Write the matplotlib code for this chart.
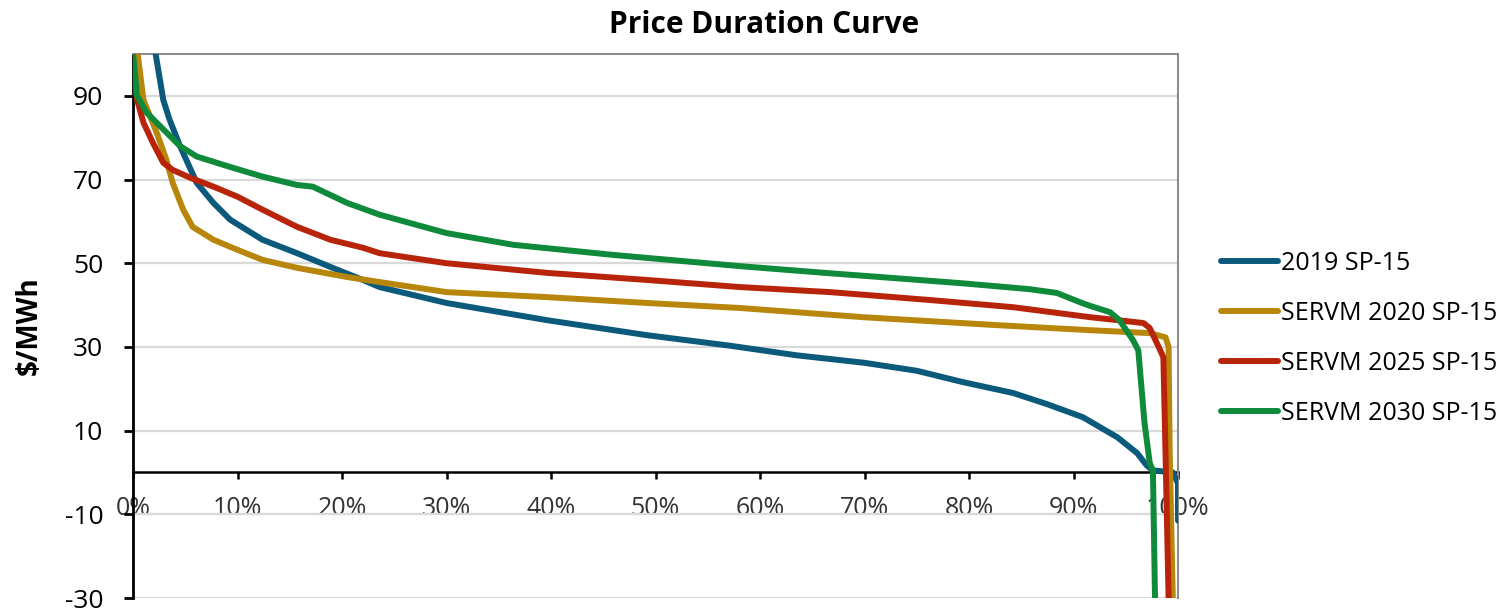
import matplotlib
matplotlib.use('Agg')
import matplotlib.pyplot as plt

plt.rcParams['font.family'] = ['Open Sans', 'DejaVu Sans']
plt.rcParams['axes.unicode_minus'] = False

# duration (% of hours) and price ($/MWh) for each curve
x_2019 = [1.6, 2.1, 2.9, 3.5, 4.5, 6.1, 7.7, 9.3, 12.4, 15.7, 18.9, 22.0, 23.6, 30.0, 39.6, 49.2,
          57.1, 63.5, 70.0, 75.0, 79.4, 84.2, 87.5, 90.9, 94.2, 96.1, 97.0, 97.6, 99.5, 100.0, 100.0]
y_2019 = [110, 101, 89, 84.3, 78, 69.2, 64.4, 60.4, 55.6, 52.4, 49.1, 46, 44.3, 40.5, 36.4, 32.8,
          30.3, 28.0, 26.2, 24.3, 21.6, 19.0, 16.3, 13.2, 8.4, 4.6, 1.7, 0.5, 0, -2.6, -11.5]

x_2020 = [0.0, 0.4, 1.0, 2.3, 3.2, 3.8, 4.8, 5.7, 7.7, 10.0, 12.4, 15.7, 20.5, 23.6, 30.0, 39.6,
          49.2, 58.1, 69.9, 82.7, 91.6, 97.3, 98.8, 99.1, 99.2, 99.5]
y_2020 = [108, 101, 89, 81, 74.7, 69.2, 62.8, 58.7, 55.6, 53.2, 50.8, 48.9, 46.7, 45.5, 43.1, 41.9,
          40.5, 39.3, 37.1, 35.2, 34.0, 33.3, 32.3, 30, 5.3, -30]

x_2025 = [0.0, 0.4, 1.0, 1.9, 2.9, 3.8, 5.5, 7.7, 10.0, 12.4, 15.7, 18.9, 22.0, 23.6, 30.0, 39.6,
          49.2, 58.1, 66.7, 76.3, 84.2, 91.6, 94.2, 96.7, 97.3, 98.3, 98.6, 98.8, 99.1]
y_2025 = [95, 89, 83.6, 78.8, 74, 72.3, 70.4, 68.3, 65.9, 62.8, 58.7, 55.6, 53.7, 52.4, 50.0, 47.7,
          46.0, 44.3, 43.1, 41.2, 39.5, 37.1, 36.4, 35.7, 34.5, 29.2, 27.5, 5.3, -30]

x_2030 = [0.0, 0.4, 1.3, 2.9, 4.5, 6.1, 9.3, 12.4, 15.7, 17.2, 20.5, 23.6, 30.0, 36.4, 45.9, 58.1,
          66.7, 73.1, 79.4, 85.8, 88.4, 90.6, 91.6, 93.5, 94.4, 95.7, 96.2, 96.8, 97.3, 97.6, 97.8]
y_2030 = [100, 90, 86, 82, 78, 75.5, 73, 70.7, 68.7, 68.3, 64.4, 61.6, 57.2, 54.4, 52, 49.3,
          47.6, 46.4, 45.2, 43.8, 42.9, 40.7, 39.8, 38.3, 36.4, 31.6, 29.2, 11.7, 2.2, 0.5, -30]

labels = ['2019 SP-15', 'SERVM 2020 SP-15', 'SERVM 2025 SP-15', 'SERVM 2030 SP-15']
colors = ['#0b5a7c', '#b8860b', '#b8240a', '#0e8a3a']

y_ticks = [-30, -10, 10, 30, 50, 70, 90]
x_ticks = [0, 10, 20, 30, 40, 50, 60, 70, 80, 90, 100]

fig = plt.figure(figsize=(15.12, 6.1), dpi=100)
ax = fig.add_axes([133 / 1512, 12 / 610, 1045 / 1512, 544 / 610])

series = [(x_2019, y_2019), (x_2020, y_2020), (x_2025, y_2025), (x_2030, y_2030)]
for (xs, ys), lab, col in zip(series, labels, colors):
    ax.plot(xs, ys, color=col, lw=4.3, label=lab, solid_capstyle='round',
            solid_joinstyle='round', zorder=3)

ax.set_xlim(0, 100)
ax.set_ylim(-30, 100)
ax.set_yticks(y_ticks)
ax.set_xticks(x_ticks)
ax.set_xticklabels([f'{v}%' for v in x_ticks])
ax.yaxis.grid(True, color='#d9d9d9', lw=1.6, zorder=0)
ax.set_axisbelow(True)

# category axis crosses at zero
ax.spines['bottom'].set_position(('data', 0))
ax.spines['bottom'].set_linewidth(1.8)
ax.spines['bottom'].set_zorder(2)
ax.spines['left'].set_linewidth(2)
for side in ['top', 'right']:
    ax.spines[side].set_color('#8c8c8c')
    ax.spines[side].set_linewidth(1.5)

ax.tick_params(axis='y', direction='out', length=6.5, width=2, pad=15, labelsize=19, colors='black')
ax.tick_params(axis='x', direction='out', length=5, width=1.8, pad=12, labelsize=18)
for t in ax.get_xticklabels():
    t.set_color('#333333')

fig.text(764 / 1512, 1 - 25 / 610, 'Price Duration Curve', ha='center', va='center',
         fontsize=21.5, fontweight='bold')
fig.text(29 / 1512, 1 - 326 / 610, '$/MWh', rotation=90, ha='center', va='center',
         fontsize=20, fontweight='bold')

fig.legend(loc='center left', bbox_to_anchor=(1198 / 1512, 1 - 338 / 610), frameon=False,
           fontsize=18, handlelength=2.3, handletextpad=0.12, labelspacing=1.0)

fig.savefig('out.png', dpi=100)
